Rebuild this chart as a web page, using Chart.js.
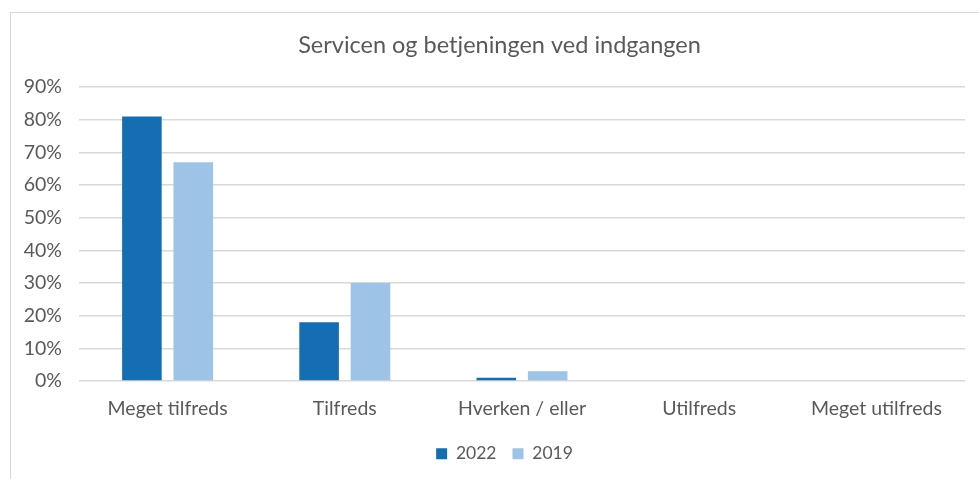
<!DOCTYPE html>
<html>
<head>
<meta charset="utf-8">
<script src="https://cdn.jsdelivr.net/npm/chart.js@4"></script>
<style>
  html, body { margin: 0; padding: 0; background: #fff; }
  #wrap { position: relative; width: 979px; height: 479px; }
  #frame {
    position: absolute; left: 10px; top: 12px; width: 980px; height: 480px;
    border-left: 1px solid #d9d9d9; border-top: 1px solid #d9d9d9;
    pointer-events: none;
  }
</style>
</head>
<body>
<div id="wrap">
  <canvas id="chart" width="979" height="479"></canvas>
  <div id="frame"></div>
</div>
<script>
const categories = ['Meget tilfreds', 'Tilfreds', 'Hverken / eller', 'Utilfreds', 'Meget utilfreds'];
const values2022 = [0.81, 0.18, 0.01, 0, 0];
const values2019 = [0.67, 0.30, 0.03, 0, 0];
const yTicks = [0, 0.1, 0.2, 0.3, 0.4, 0.5, 0.6, 0.7, 0.8, 0.9];

const fontFamily = 'Lato, "Open Sans", sans-serif';
const textColor = '#595959';

// title and legend sit a bit right of the plot centre in the original
const shiftBlocks = {
  id: 'shiftBlocks',
  afterLayout(chart) {
    chart.titleBlock.left += 34;
    chart.legend.left += 22;
    chart.legend.right += 22;
  },
};

const canvas = document.getElementById('chart');

const chart = new Chart(canvas, {
  type: 'bar',
  data: {
    labels: categories,
    datasets: [
      {
        label: '2022',
        data: values2022,
        backgroundColor: '#156db2',
        borderWidth: 0,
        categoryPercentage: 0.58,
        barPercentage: 0.77,
      },
      {
        label: '2019',
        data: values2019,
        backgroundColor: '#9dc3e6',
        borderWidth: 0,
        categoryPercentage: 0.58,
        barPercentage: 0.77,
      },
    ],
  },
  plugins: [shiftBlocks],
  options: {
    responsive: false,
    animation: false,
    layout: {
      padding: { left: 0, right: 14, top: 0, bottom: 6.5 },
    },
    plugins: {
      title: {
        display: true,
        text: 'Servicen og betjeningen ved indgangen',
        color: textColor,
        font: { family: fontFamily, size: 23.5, weight: 'normal' },
        padding: { top: 31, bottom: 27.8 },
      },
      legend: {
        position: 'bottom',
        labels: {
          color: textColor,
          font: { family: fontFamily, size: 17.5 },
          boxWidth: 11,
          boxHeight: 11,
          padding: 16,
        },
      },
      tooltip: { enabled: false },
    },
    scales: {
      x: {
        grid: { display: false, drawTicks: false },
        border: { display: false },
        ticks: {
          color: textColor,
          font: { family: fontFamily, size: 19.5 },
          padding: 16,
        },
        afterFit: (scale) => {
          scale.height = 48;
        },
      },
      y: {
        min: 0,
        max: 0.9,
        afterBuildTicks: (scale) => {
          scale.ticks = yTicks.map((v) => ({ value: v }));
        },
        grid: { color: '#d9d9d9', lineWidth: 1.5, drawTicks: false },
        border: { display: false },
        ticks: {
          color: textColor,
          font: { family: fontFamily, size: 19.5 },
          padding: 17,
          callback: (v) => Math.round(v * 100) + '%',
        },
        afterFit: (scale) => {
          scale.width = 79;
        },
      },
    },
  },
});
</script>
</body>
</html>
